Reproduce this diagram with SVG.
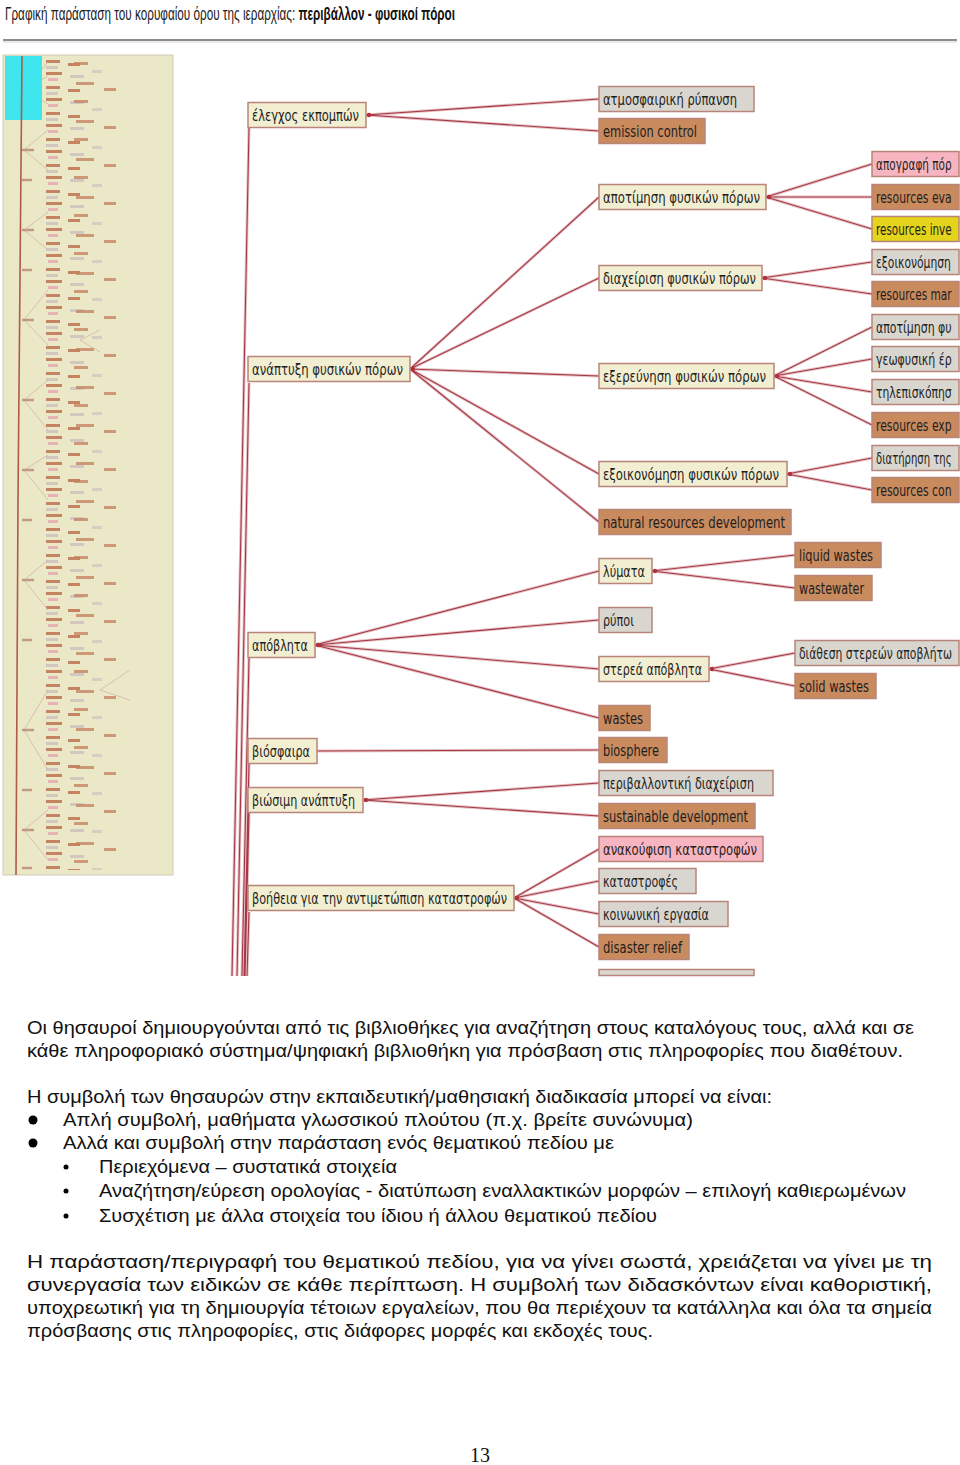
<svg xmlns="http://www.w3.org/2000/svg" width="960" height="1465" viewBox="0 0 960 1465">
<defs>
<style>
.nt{font-family:"DejaVu Sans Condensed","DejaVu Sans",sans-serif;font-size:16.5px;fill:#1e1e1e}
.bx{stroke:#b8857a;stroke-width:1.5}
.bg{fill:#f2eed1}.gr{fill:#d9d6d0}.br{fill:#c98a5e}.pk{fill:#f6b5c0}.yl{fill:#e4d41c}
.body{font-family:"Liberation Sans",Arial,sans-serif;font-size:18px;fill:#111}
.halo{fill:none;stroke:#e6c2c4;stroke-width:3}
.core{fill:none;stroke:#a53848;stroke-width:1.1}
</style>
<pattern id="pa" x="46" y="58" width="60" height="26" patternUnits="userSpaceOnUse">
<rect x="0" y="2" width="14" height="3" fill="#c48462"/>
<rect x="0" y="8" width="12" height="3" fill="#d2c8c0"/>
<rect x="0" y="14" width="16" height="3" fill="#c48462"/>
<rect x="2" y="20" width="10" height="3" fill="#e6b4b4"/>
<rect x="22" y="5" width="12" height="3" fill="#c48462"/>
<rect x="24" y="17" width="14" height="3" fill="#d2c8c0"/>
</pattern>
<pattern id="pb" x="60" y="58" width="80" height="38" patternUnits="userSpaceOnUse">
<rect x="14" y="4" width="14" height="3" fill="#c48462"/>
<rect x="32" y="12" width="10" height="3" fill="#d2c8c0"/>
<rect x="16" y="24" width="18" height="3" fill="#c48462"/>
<rect x="44" y="30" width="12" height="3" fill="#c48462"/>
</pattern>
<clipPath id="page"><rect x="0" y="0" width="960" height="976"/></clipPath>
</defs>
<rect width="960" height="1465" fill="#fff"/>

<g id="header">
<g transform="translate(5,20) scale(0.6,1)">
<text x="0" y="0" font-family="Liberation Sans,Arial,sans-serif" font-size="18.5" fill="#222" textLength="750" lengthAdjust="spacingAndGlyphs">Γραφική παράσταση του κορυφαίου όρου της ιεραρχίας: <tspan font-weight="bold" fill="#111">περιβάλλον - φυσικοί πόροι</tspan></text>
</g>
<line x1="3" y1="40" x2="957" y2="40" stroke="#8c8c8c" stroke-width="2"/>
<line x1="3" y1="42" x2="957" y2="42" stroke="#d4d4d4" stroke-width="1"/>
</g>

<g id="thumbnail">
<rect x="3" y="55" width="170" height="820" fill="#ebe8c7" stroke="#d0ccb8"/>
<rect x="46" y="58" width="60" height="812" fill="url(#pa)"/>
<rect x="60" y="58" width="80" height="812" fill="url(#pb)" opacity="0.8"/>
<path d="M24 90L48 62M24 90L48 76M24 90L48 104M24 150L48 130M24 150L48 170M24 230L48 212M24 230L48 250M24 320L48 290M24 320L48 345M24 400L48 380M24 400L48 430M24 470L48 455M24 470L48 500M24 580L48 560M24 580L48 610M24 730L48 690M24 730L48 770M24 830L48 810M24 830L48 860M100 690L130 670M100 690L130 700M80 340L100 330M80 340L100 352" fill="none" stroke="#d4b4a4" stroke-width="0.8"/>
<path d="M22 70h12M22 100h12M22 150h12M22 180h10M22 230h12M22 270h10M22 320h12M22 400h12M22 470h12M22 520h10M22 580h12M22 640h10M22 730h12M22 790h10M22 830h12M22 868h10" stroke="#c09a84" stroke-width="2.5"/>
<rect x="5" y="56" width="37" height="64" fill="#3fe6ee"/>
<path d="M22 56L18 500L16 875" fill="none" stroke="#b05a48" stroke-width="1.6"/>
</g>

<g id="connectors" clip-path="url(#page)">
<path class="halo" d="M366 115L599 99M366 115L599 131M410 369L599 197M410 369L599 278M410 369L599 376M410 369L599 474M410 369L599 522M766 197L872 164M766 197L872 197M766 197L872 229M762 278L872 262M762 278L872 294M774 376L872 327M774 376L872 359M774 376L872 392M774 376L872 425M787 474L872 458M787 474L872 490M315 645L599 571M315 645L599 620M315 645L599 669M315 645L599 718M652 571L795 555M652 571L795 588M709 669L795 653M709 669L795 686M317 751L599 750M363 800L599 783M363 800L599 816M514 898L599 849M514 898L599 881M514 898L599 914M514 898L599 947M249 128L232 976M249 383L237 976M249 658L242 976M249 764L244 976M249 813L245 976M249 912L247 976"/>
<path class="core" d="M366 115L599 99M366 115L599 131M410 369L599 197M410 369L599 278M410 369L599 376M410 369L599 474M410 369L599 522M766 197L872 164M766 197L872 197M766 197L872 229M762 278L872 262M762 278L872 294M774 376L872 327M774 376L872 359M774 376L872 392M774 376L872 425M787 474L872 458M787 474L872 490M315 645L599 571M315 645L599 620M315 645L599 669M315 645L599 718M652 571L795 555M652 571L795 588M709 669L795 653M709 669L795 686M317 751L599 750M363 800L599 783M363 800L599 816M514 898L599 849M514 898L599 881M514 898L599 914M514 898L599 947M249 128L232 976M249 383L237 976M249 658L242 976M249 764L244 976M249 813L245 976M249 912L247 976"/>
<g fill="#b0303c">
<circle cx="369" cy="115" r="2.2"/><circle cx="413" cy="369" r="2.2"/><circle cx="769" cy="197" r="2.2"/><circle cx="765" cy="278" r="2.2"/><circle cx="777" cy="376" r="2.2"/><circle cx="790" cy="474" r="2.2"/><circle cx="318" cy="645" r="2.2"/><circle cx="655" cy="571" r="2.2"/><circle cx="712" cy="669" r="2.2"/><circle cx="366" cy="800" r="2.2"/><circle cx="517" cy="898" r="2.2"/>
</g>
</g>

<g id="nodes">
<g id="n-elegxos"><rect class="bx bg" x="248" y="102.5" width="118" height="25"/><text class="nt" x="252" y="121" textLength="107" lengthAdjust="spacingAndGlyphs">έλεγχος εκπομπών</text></g>
<g id="n-anaptyxi"><rect class="bx bg" x="248" y="356.5" width="162" height="25"/><text class="nt" x="252" y="375" textLength="151" lengthAdjust="spacingAndGlyphs">ανάπτυξη φυσικών πόρων</text></g>
<g id="n-apovlita"><rect class="bx bg" x="248" y="632.5" width="67" height="25"/><text class="nt" x="252" y="651" textLength="56" lengthAdjust="spacingAndGlyphs">απόβλητα</text></g>
<g id="n-viosfaira"><rect class="bx bg" x="248" y="738.5" width="69" height="25"/><text class="nt" x="252" y="757" textLength="58" lengthAdjust="spacingAndGlyphs">βιόσφαιρα</text></g>
<g id="n-viosimi"><rect class="bx bg" x="248" y="787.5" width="115" height="25"/><text class="nt" x="252" y="806" textLength="103" lengthAdjust="spacingAndGlyphs">βιώσιμη ανάπτυξη</text></g>
<g id="n-voitheia"><rect class="bx bg" x="248" y="885.5" width="266" height="25"/><text class="nt" x="252" y="904" textLength="255" lengthAdjust="spacingAndGlyphs">βοήθεια για την αντιμετώπιση καταστροφών</text></g>

<g id="n-atmosf"><rect class="bx gr" x="599" y="86.5" width="155" height="25"/><text class="nt" x="603" y="105" textLength="134" lengthAdjust="spacingAndGlyphs">ατμοσφαιρική ρύπανση</text></g>
<g id="n-emission"><rect class="bx br" x="599" y="118.5" width="106" height="25"/><text class="nt" x="603" y="137" textLength="94" lengthAdjust="spacingAndGlyphs">emission control</text></g>
<g id="n-apotimisi"><rect class="bx bg" x="599" y="184.5" width="167" height="25"/><text class="nt" x="603" y="203" textLength="157" lengthAdjust="spacingAndGlyphs">αποτίμηση φυσικών πόρων</text></g>
<g id="n-diaxeirisi"><rect class="bx bg" x="599" y="265.5" width="163" height="25"/><text class="nt" x="603" y="284" textLength="153" lengthAdjust="spacingAndGlyphs">διαχείριση φυσικών πόρων</text></g>
<g id="n-exerevnisi"><rect class="bx bg" x="599" y="363.5" width="175" height="25"/><text class="nt" x="603" y="382" textLength="163" lengthAdjust="spacingAndGlyphs">εξερεύνηση φυσικών πόρων</text></g>
<g id="n-exoikonomisi"><rect class="bx bg" x="599" y="461.5" width="188" height="25"/><text class="nt" x="603" y="480" textLength="176" lengthAdjust="spacingAndGlyphs">εξοικονόμηση φυσικών πόρων</text></g>
<g id="n-natural"><rect class="bx br" x="599" y="509.5" width="192" height="25"/><text class="nt" x="603" y="528" textLength="182" lengthAdjust="spacingAndGlyphs">natural resources development</text></g>
<g id="n-lymata"><rect class="bx bg" x="599" y="558.5" width="53" height="25"/><text class="nt" x="603" y="577" textLength="42" lengthAdjust="spacingAndGlyphs">λύματα</text></g>
<g id="n-rypoi"><rect class="bx gr" x="599" y="607.5" width="53" height="25"/><text class="nt" x="603" y="626" textLength="31" lengthAdjust="spacingAndGlyphs">ρύποι</text></g>
<g id="n-sterea"><rect class="bx bg" x="599" y="656.5" width="110" height="25"/><text class="nt" x="603" y="675" textLength="99" lengthAdjust="spacingAndGlyphs">στερεά απόβλητα</text></g>
<g id="n-wastes"><rect class="bx br" x="599" y="705.5" width="51" height="25"/><text class="nt" x="603" y="724" textLength="40" lengthAdjust="spacingAndGlyphs">wastes</text></g>
<g id="n-biosphere"><rect class="bx br" x="599" y="737.5" width="68" height="25"/><text class="nt" x="603" y="756" textLength="56" lengthAdjust="spacingAndGlyphs">biosphere</text></g>
<g id="n-perivallontiki"><rect class="bx gr" x="599" y="770.5" width="174" height="25"/><text class="nt" x="603" y="789" textLength="151" lengthAdjust="spacingAndGlyphs">περιβαλλοντική διαχείριση</text></g>
<g id="n-sustainable"><rect class="bx br" x="599" y="803.5" width="156" height="25"/><text class="nt" x="603" y="822" textLength="145" lengthAdjust="spacingAndGlyphs">sustainable development</text></g>
<g id="n-anakoufisi"><rect class="bx pk" x="599" y="836.5" width="164" height="25"/><text class="nt" x="603" y="855" textLength="154" lengthAdjust="spacingAndGlyphs">ανακούφιση καταστροφών</text></g>
<g id="n-katastrofes"><rect class="bx gr" x="599" y="868.5" width="97" height="25"/><text class="nt" x="603" y="887" textLength="75" lengthAdjust="spacingAndGlyphs">καταστροφές</text></g>
<g id="n-koinoniki"><rect class="bx gr" x="599" y="901.5" width="129" height="25"/><text class="nt" x="603" y="920" textLength="106" lengthAdjust="spacingAndGlyphs">κοινωνική εργασία</text></g>
<g id="n-disaster"><rect class="bx br" x="599" y="934.5" width="90" height="25"/><text class="nt" x="603" y="953" textLength="79" lengthAdjust="spacingAndGlyphs">disaster relief</text></g>
<g id="n-partial"><rect class="bx gr" x="599" y="969.5" width="155" height="6"/></g>

<g id="n-liquid"><rect class="bx br" x="795" y="542.5" width="86" height="25"/><text class="nt" x="799" y="561" textLength="74" lengthAdjust="spacingAndGlyphs">liquid wastes</text></g>
<g id="n-wastewater"><rect class="bx br" x="795" y="575.5" width="77" height="25"/><text class="nt" x="799" y="594" textLength="65" lengthAdjust="spacingAndGlyphs">wastewater</text></g>
<g id="n-diathesi"><rect class="bx gr" x="795" y="640.5" width="164" height="25"/><g transform="translate(799,659) scale(0.68,1)"><text class="nt" x="0" y="0" textLength="225" lengthAdjust="spacingAndGlyphs">διάθεση στερεών αποβλήτω</text></g></g>
<g id="n-solid"><rect class="bx br" x="795" y="673.5" width="81" height="25"/><text class="nt" x="799" y="692" textLength="70" lengthAdjust="spacingAndGlyphs">solid wastes</text></g>

<g id="n-apografi"><rect class="bx pk" x="872" y="151.5" width="87" height="25"/><g transform="translate(876,170) scale(0.78,1)"><text class="nt" x="0" y="0" textLength="97" lengthAdjust="spacingAndGlyphs">απογραφή πόρ</text></g></g>
<g id="n-reseva"><rect class="bx br" x="872" y="184.5" width="87" height="25"/><g transform="translate(876,203) scale(0.78,1)"><text class="nt" x="0" y="0" textLength="97" lengthAdjust="spacingAndGlyphs">resources eva</text></g></g>
<g id="n-resinv"><rect class="bx yl" x="872" y="216.5" width="87" height="25"/><g transform="translate(876,235) scale(0.78,1)"><text class="nt" x="0" y="0" textLength="97" lengthAdjust="spacingAndGlyphs">resources inve</text></g></g>
<g id="n-exoik2"><rect class="bx gr" x="872" y="249.5" width="87" height="25"/><g transform="translate(876,268) scale(0.78,1)"><text class="nt" x="0" y="0" textLength="96" lengthAdjust="spacingAndGlyphs">εξοικονόμηση</text></g></g>
<g id="n-resman"><rect class="bx br" x="872" y="281.5" width="87" height="25"/><g transform="translate(876,300) scale(0.78,1)"><text class="nt" x="0" y="0" textLength="97" lengthAdjust="spacingAndGlyphs">resources mar</text></g></g>
<g id="n-apotim2"><rect class="bx gr" x="872" y="314.5" width="87" height="25"/><g transform="translate(876,333) scale(0.78,1)"><text class="nt" x="0" y="0" textLength="97" lengthAdjust="spacingAndGlyphs">αποτίμηση φυ</text></g></g>
<g id="n-geofysiki"><rect class="bx gr" x="872" y="346.5" width="87" height="25"/><g transform="translate(876,365) scale(0.78,1)"><text class="nt" x="0" y="0" textLength="97" lengthAdjust="spacingAndGlyphs">γεωφυσική έρ</text></g></g>
<g id="n-tilepisk"><rect class="bx gr" x="872" y="379.5" width="87" height="25"/><g transform="translate(876,398) scale(0.78,1)"><text class="nt" x="0" y="0" textLength="97" lengthAdjust="spacingAndGlyphs">τηλεπισκόπησ</text></g></g>
<g id="n-resexp"><rect class="bx br" x="872" y="412.5" width="87" height="25"/><g transform="translate(876,431) scale(0.78,1)"><text class="nt" x="0" y="0" textLength="97" lengthAdjust="spacingAndGlyphs">resources exp</text></g></g>
<g id="n-diatirisi"><rect class="bx gr" x="872" y="445.5" width="87" height="25"/><g transform="translate(876,464) scale(0.7,1)"><text class="nt" x="0" y="0" textLength="108" lengthAdjust="spacingAndGlyphs">διατήρηση της</text></g></g>
<g id="n-rescon"><rect class="bx br" x="872" y="477.5" width="87" height="25"/><g transform="translate(876,496) scale(0.78,1)"><text class="nt" x="0" y="0" textLength="97" lengthAdjust="spacingAndGlyphs">resources con</text></g></g>
</g>

<g id="bodytext">
<text class="body" x="27" y="1034" textLength="887" lengthAdjust="spacingAndGlyphs">Οι θησαυροί δημιουργούνται από τις βιβλιοθήκες για αναζήτηση στους καταλόγους τους, αλλά και σε</text>
<text class="body" x="27" y="1057" textLength="876" lengthAdjust="spacingAndGlyphs">κάθε πληροφοριακό σύστημα/ψηφιακή βιβλιοθήκη για πρόσβαση στις πληροφορίες που διαθέτουν.</text>
<text class="body" x="27" y="1103" textLength="745" lengthAdjust="spacingAndGlyphs">Η συμβολή των θησαυρών στην εκπαιδευτική/μαθησιακή διαδικασία μπορεί να είναι:</text>
<circle cx="33" cy="1120" r="4.5" fill="#000"/>
<text class="body" x="63" y="1126" textLength="630" lengthAdjust="spacingAndGlyphs">Απλή συμβολή, μαθήματα γλωσσικού πλούτου  (π.χ. βρείτε συνώνυμα)</text>
<circle cx="33" cy="1143" r="4.5" fill="#000"/>
<text class="body" x="63" y="1149" textLength="551" lengthAdjust="spacingAndGlyphs">Αλλά και  συμβολή στην παράσταση ενός θεματικού πεδίου με</text>
<circle cx="66" cy="1167" r="2.5" fill="#000"/>
<text class="body" x="99" y="1173" textLength="298" lengthAdjust="spacingAndGlyphs">Περιεχόμενα – συστατικά στοιχεία</text>
<circle cx="66" cy="1191" r="2.5" fill="#000"/>
<text class="body" x="99" y="1197" textLength="807" lengthAdjust="spacingAndGlyphs">Αναζήτηση/εύρεση ορολογίας - διατύπωση εναλλακτικών μορφών – επιλογή καθιερωμένων</text>
<circle cx="66" cy="1216" r="2.5" fill="#000"/>
<text class="body" x="99" y="1222" textLength="558" lengthAdjust="spacingAndGlyphs">Συσχέτιση με άλλα στοιχεία του ίδιου ή άλλου θεματικού πεδίου</text>
<text class="body" x="27" y="1268" textLength="905" lengthAdjust="spacingAndGlyphs">Η παράσταση/περιγραφή του θεματικού πεδίου, για να γίνει σωστά, χρειάζεται να γίνει με τη</text>
<text class="body" x="27" y="1291" textLength="905" lengthAdjust="spacingAndGlyphs">συνεργασία των ειδικών σε κάθε περίπτωση. Η συμβολή των διδασκόντων είναι καθοριστική,</text>
<text class="body" x="27" y="1314" textLength="905" lengthAdjust="spacingAndGlyphs">υποχρεωτική για τη δημιουργία τέτοιων εργαλείων, που θα περιέχουν τα κατάλληλα και όλα τα σημεία</text>
<text class="body" x="27" y="1337" textLength="626" lengthAdjust="spacingAndGlyphs">πρόσβασης στις πληροφορίες, στις διάφορες μορφές και εκδοχές τους.</text>
<text x="480" y="1462" text-anchor="middle" font-family="Liberation Serif,Times New Roman,serif" font-size="20" fill="#111">13</text>
</g>
</svg>
